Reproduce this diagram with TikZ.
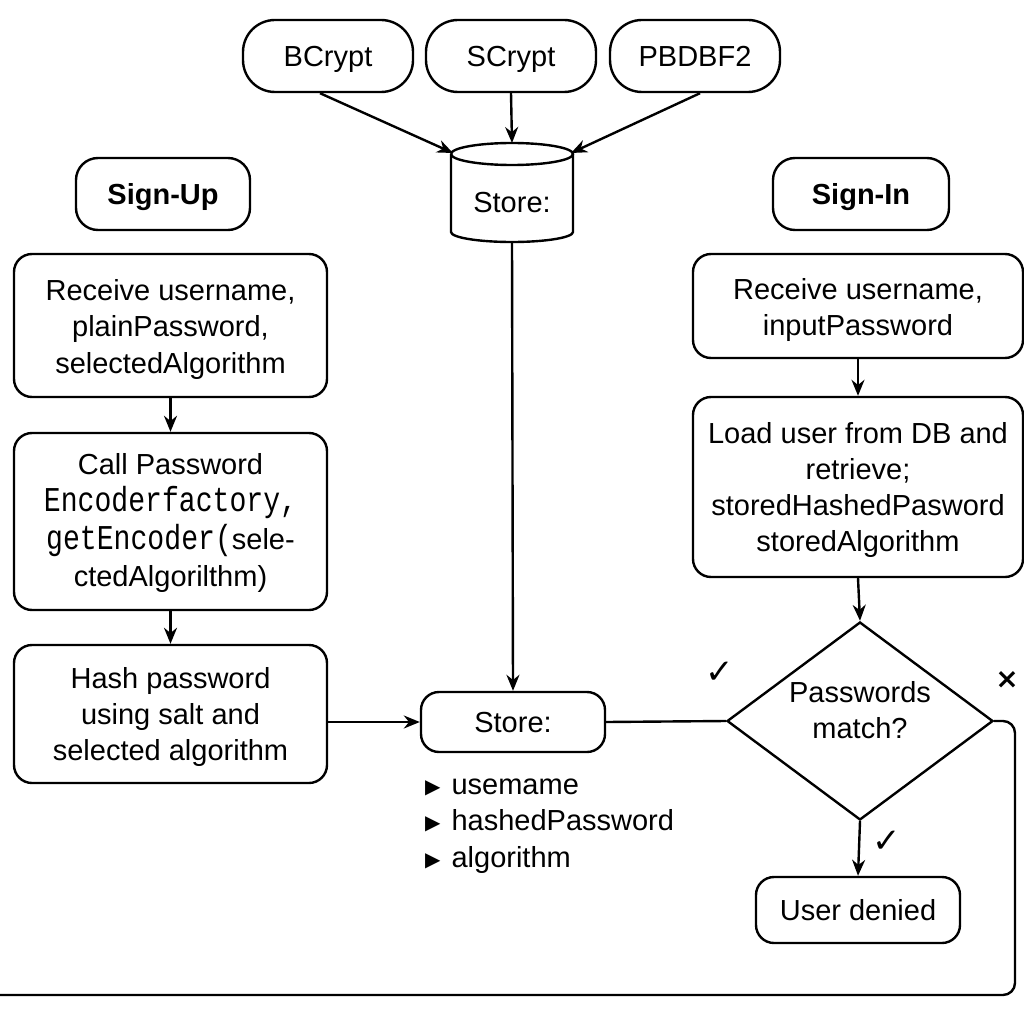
\documentclass[tikz,border=0pt]{standalone}
\usepackage{fontspec}
\usepackage{graphicx}
\setmainfont{Liberation Sans}
\setmonofont{Liberation Mono}
\newfontfamily\symfont{DejaVu Sans}
\usetikzlibrary{arrows.meta,shapes.geometric}
\newcommand\mybul{\raisebox{1pt}{\symfont\fontsize{20}{20}\selectfont ▶}\hspace{11pt}}
\newcommand\mymono[1]{\scalebox{0.97}[1.2]{\texttt{#1}}}
\begin{document}
\begin{tikzpicture}[x=1pt,y=-1pt, line width=2.4pt,
  txt/.style={font=\fontsize{29}{36}\selectfont},
  lbl/.style={txt, align=center, inner sep=0pt},
  box/.style={draw, rounded corners=18pt, inner sep=0pt},
  pill/.style={draw, rounded corners=32pt, inner sep=0pt, minimum width=170pt, minimum height=72pt},
  head/.style={box, rounded corners=22pt, minimum height=72pt},
  arr/.style={-{Stealth[length=16pt,width=13pt]}},
  tickmark/.style={inner sep=0pt}
]
\useasboundingbox (0,0) rectangle (1024,1024);

% top algorithms
\node[pill, label={[lbl, yshift=-3pt]center:BCrypt}] (bc) at (328,56) {};
\node[pill, label={[lbl, yshift=-3pt]center:SCrypt}] (sc) at (511,56) {};
\node[pill, label={[lbl]center:PBDBF2}] (pb) at (695,56) {};

% cylinder
\draw (451,154) arc[start angle=180, end angle=540, x radius=61, y radius=11];
\draw (451,154) -- (451,232) arc[start angle=180, end angle=0, x radius=61, y radius=10] -- (573,154);
\node[lbl] (cyl) at (512,203) {Store:};
\coordinate (cylT) at (512,143);
\coordinate (cylTL) at (453,153);
\coordinate (cylTR) at (571,153);
\coordinate (cylB) at (512,242);

\draw[arr] (bc.south) ++(-8,0) -- (cylTL);
\draw[arr] (sc.south) -- (cylT);
\draw[arr] (pb.south) ++(5,0) -- (cylTR);

% headers
\node[head, minimum width=174pt, label={[lbl, font=\fontsize{29}{36}\selectfont\bfseries, yshift=-3pt]center:Sign-Up}] (su) at (163,194) {};
\node[head, minimum width=176pt, label={[lbl, font=\fontsize{29}{36}\selectfont\bfseries, yshift=-3pt]center:Sign-In}] (si) at (861,194) {};

% sign-up column
\node[box, minimum width=313pt, minimum height=143pt,
  label={[lbl, yshift=-4pt]center:{Receive username,\\ plainPassword,\\ selectedAlgorithm}}] (l1) at (170.5,325.5) {};
\node[box, minimum width=313pt, minimum height=177pt,
  label={[lbl, font=\fontsize{29}{37.5}\selectfont, yshift=-1.5pt]center:{Call Password\\ \mymono{Encoderfactory,}\\ \mymono{getEncoder(}sele-\\ ctedAlgorilthm)}}] (l2) at (170.5,521.5) {};
\node[box, minimum width=313pt, minimum height=138pt,
  label={[lbl, yshift=-2.5pt]center:{Hash password\\ using salt and\\ selected algorithm}}] (l3) at (170.5,714) {};

\draw[arr] (l1.south) -- (l2.north);
\draw[arr] (l2.south) -- (l3.north);

% store
\node[box, minimum width=184pt, minimum height=60pt, label={[lbl, yshift=-1pt]center:Store:}] (store) at (513,722) {};
\node[txt, anchor=west, align=left, inner sep=0pt, font=\fontsize{29}{36.5}\selectfont] (fields) at (424,826)
  {\mybul usemame\\ \mybul hashedPassword\\ \mybul algorithm};

\draw[arr] (cylB) -- (store.north);
\draw[arr] (l3.east |- store.west) -- (store.west);

% sign-in column
\node[box, minimum width=330pt, minimum height=104pt,
  label={[lbl, yshift=-4pt]center:{Receive username,\\ inputPassword}}] (r1) at (858,306) {};
\node[box, minimum width=330pt, minimum height=180pt,
  label={[lbl, yshift=-3pt]center:{Load user from DB and\\ retrieve;\\ storedHashedPasword\\ storedAlgorithm}}] (r2) at (858,487) {};
\node[diamond, draw, inner sep=0pt, minimum width=266pt, minimum height=198pt, aspect=1.34,
  label={[lbl, yshift=11pt]center:{Passwords\\ match?}}] (dia) at (860,721) {};
\node[box, minimum width=204pt, minimum height=66pt, label={[lbl]center:User denied}] (deny) at (858,910) {};

\draw[arr] (r1.south) -- (r2.north);
\draw[arr] (r2.south) -- (dia.north);
\draw[arr] (dia.south) -- (deny.north);
\draw (store.east) -- (dia.west);

\coordinate (loopBR) at (1015,995);
\coordinate (exitL) at (0,995);
\draw[rounded corners=12pt] (dia.east) -| (loopBR) -- (exitL);

% marks
\node[tickmark] (ck1) at (720,673) {\symfont\fontsize{34}{34}\selectfont ✓};
\node[tickmark] (ck2) at (887,842) {\symfont\fontsize{34}{34}\selectfont ✓};
\node[tickmark] (xx) at (1007,680) {\symfont\bfseries\fontsize{28}{28}\selectfont ×};
\end{tikzpicture}
\end{document}
